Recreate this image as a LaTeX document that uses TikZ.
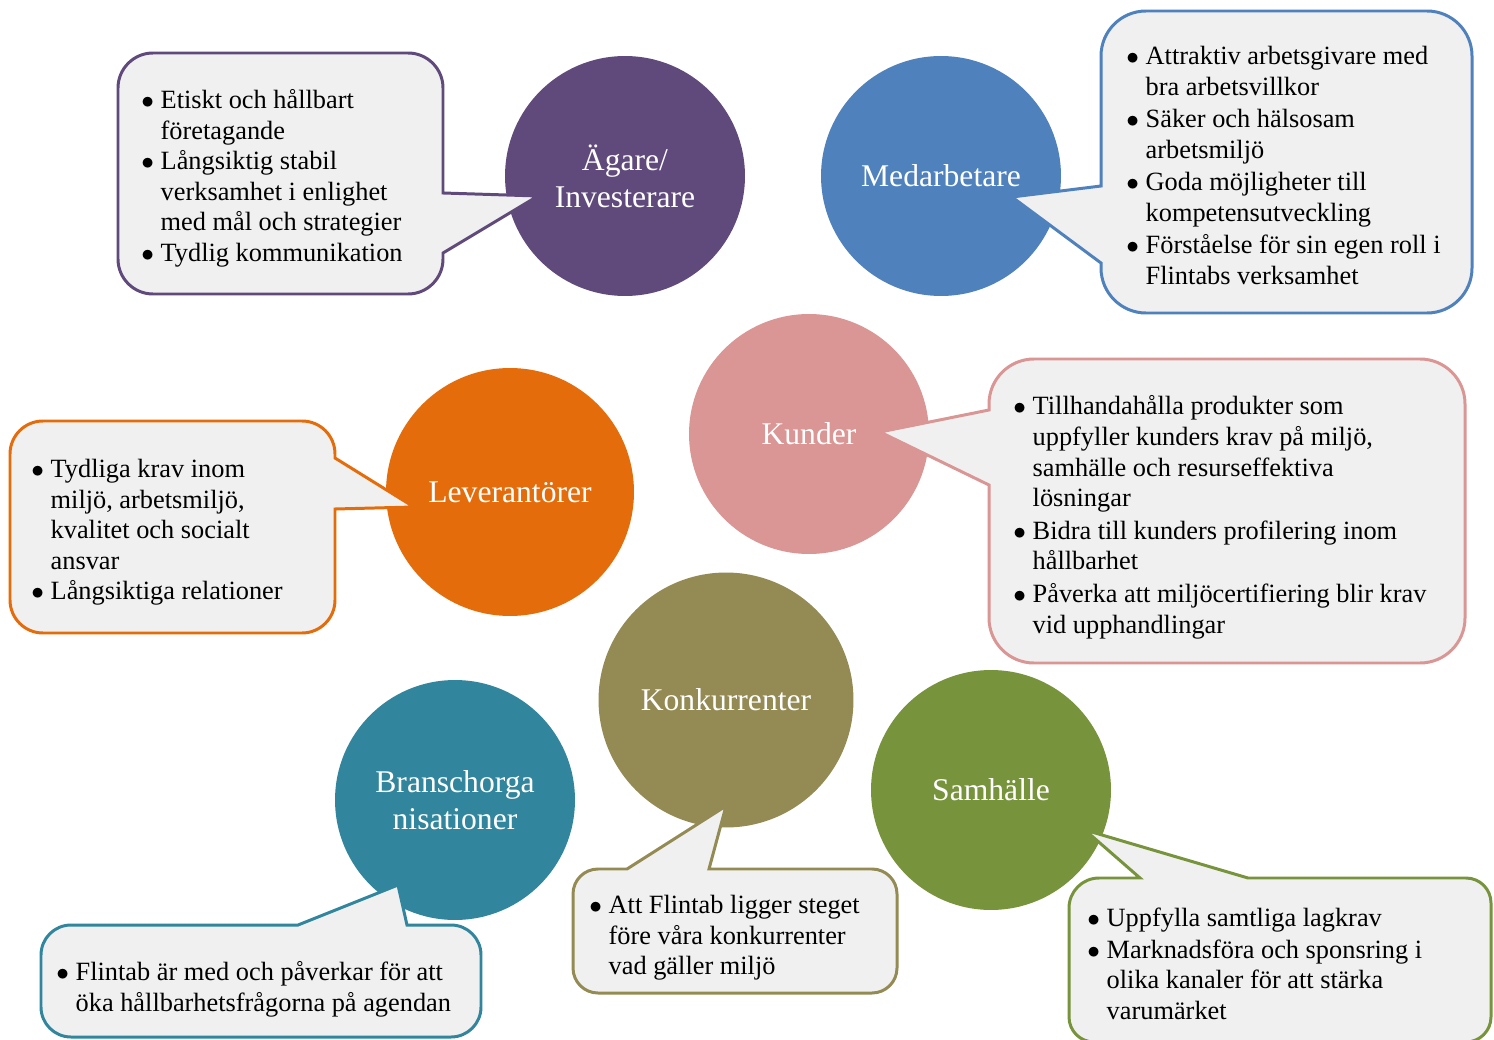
\documentclass[tikz,border=0pt]{standalone}
\usepackage{fontspec}
\setmainfont{Liberation Serif}

\definecolor{agarecol}{HTML}{604A7B}
\definecolor{medcol}{HTML}{4F81BD}
\definecolor{kundcol}{HTML}{D99694}
\definecolor{levcol}{HTML}{E46C0A}
\definecolor{konkcol}{HTML}{948A54}
\definecolor{branschcol}{HTML}{31859C}
\definecolor{samhcol}{HTML}{77933C}
\definecolor{bubblegray}{HTML}{F0F0F0}

\newcommand{\pkt}{$\bullet$}

\tikzset{
  blob/.style={circle, fill=#1, inner sep=0pt, text=white, align=center,
    font=\fontsize{18}{21}\selectfont},
  bubble/.style={draw=#1, fill=bubblegray, line width=1.7pt},
  punkter/.style={anchor=base west, inner sep=0pt,
    font=\fontsize{15}{17.4}\selectfont},
}

\begin{document}
\begin{tikzpicture}[x=0.02cm, y=-0.02cm]
    \useasboundingbox (0,0) rectangle (1494,1040);
    \clip (0,0) rectangle (1494,1040);
    \fill[white] (0,0) rectangle (1494,1040);

    % cirklar
    \node[blob=agarecol, minimum size=4.8cm] (agare) at (625,176) {Ägare/\\Investerare};
    \node[blob=medcol, minimum size=4.8cm] (medarb) at (941,176) {Medarbetare};
    \node[blob=kundcol, minimum size=4.8cm] (kunder) at (809,434) {Kunder};
    \node[blob=levcol, minimum size=4.96cm] (lev) at (510,492) {Leverantörer};
    \node[blob=konkcol, minimum size=5.1cm] (konk) at (726,700) {Konkurrenter};
    \node[blob=branschcol, minimum size=4.8cm] (bransch) at (455,800) {Branschorga\\nisationer};
    \node[blob=samhcol, minimum size=4.8cm] (samh) at (991,790) {Samhälle};

    % pratbubblor (medurs, y nedåt)
    \draw[bubble=agarecol] (153,53) -- (408,53) arc[start angle=-90, end angle=0, radius=35]
        -- (443,193) -- (538,196) -- (443,253)
        -- (443,259) arc[start angle=0, end angle=90, radius=35]
        -- (153,294) arc[start angle=90, end angle=180, radius=35]
        -- (118,88) arc[start angle=180, end angle=270, radius=35] -- cycle;
    \draw[bubble=medcol] (1146,11) -- (1427,11) arc[start angle=-90, end angle=0, radius=45]
        -- (1472,268) arc[start angle=0, end angle=90, radius=45]
        -- (1146,313) arc[start angle=90, end angle=180, radius=45]
        -- (1101,263) -- (1012,197) -- (1101,186)
        -- (1101,56) arc[start angle=180, end angle=270, radius=45] -- cycle;
    \draw[bubble=kundcol] (1034,359) -- (1420,359) arc[start angle=-90, end angle=0, radius=45]
        -- (1465,618) arc[start angle=0, end angle=90, radius=45]
        -- (1034,663) arc[start angle=90, end angle=180, radius=45]
        -- (989,485) -- (880,432) -- (989,410)
        -- (989,404) arc[start angle=180, end angle=270, radius=45] -- cycle;
    \draw[bubble=levcol] (43,421) -- (302,421) arc[start angle=-90, end angle=0, radius=33]
        -- (335,458) -- (414,507) -- (335,509)
        -- (335,600) arc[start angle=0, end angle=90, radius=33]
        -- (43,633) arc[start angle=90, end angle=180, radius=33]
        -- (10,454) arc[start angle=180, end angle=270, radius=33] -- cycle;
    \draw[bubble=branschcol] (71,925) -- (298,925) -- (398,885) -- (407,925)
        -- (451,925) arc[start angle=-90, end angle=0, radius=30]
        -- (481,1007) arc[start angle=0, end angle=90, radius=30]
        -- (71,1037) arc[start angle=90, end angle=180, radius=30]
        -- (41,955) arc[start angle=180, end angle=270, radius=30] -- cycle;
    \draw[bubble=konkcol] (598,869) -- (627,869) -- (726,806) -- (709,869)
        -- (872,869) arc[start angle=-90, end angle=0, radius=25]
        -- (897,968) arc[start angle=0, end angle=90, radius=25]
        -- (598,993) arc[start angle=90, end angle=180, radius=25]
        -- (573,894) arc[start angle=180, end angle=270, radius=25] -- cycle;
    \draw[bubble=samhcol] (1099,878) -- (1140,878) -- (1085,830) -- (1248,878)
        -- (1466,878) arc[start angle=-90, end angle=0, radius=25]
        -- (1491,1017) arc[start angle=0, end angle=90, radius=25]
        -- (1094,1042) arc[start angle=90, end angle=180, radius=25]
        -- (1069,908) arc[start angle=180, end angle=270, radius=30] -- cycle;

    % punktlistor
    \node[punkter] (agaretxt) at (141,108.5) {\begin{tabular}[t]{@{}p{11pt}@{}l@{}}
        \pkt & Etiskt och hållbart\\
             & företagande\\
        \pkt & Långsiktig stabil\\
             & verksamhet i enlighet\\
             & med mål och strategier\\
        \pkt & Tydlig kommunikation
    \end{tabular}};
    \node[punkter] (medtxt) at (1126,65) {\begin{tabular}[t]{@{}p{11pt}@{}l@{}}
        \pkt & Attraktiv arbetsgivare med\\
             & bra arbetsvillkor\\[1pt]
        \pkt & Säker och hälsosam\\
             & arbetsmiljö\\[1pt]
        \pkt & Goda möjligheter till\\
             & kompetensutveckling\\[1pt]
        \pkt & Förståelse för sin egen roll i\\
             & Flintabs verksamhet
    \end{tabular}};
    \node[punkter] (kundtxt) at (1013,415) {\begin{tabular}[t]{@{}p{11pt}@{}l@{}}
        \pkt & Tillhandahålla produkter som\\
             & uppfyller kunders krav på miljö,\\
             & samhälle och resurseffektiva\\
             & lösningar\\[1.2pt]
        \pkt & Bidra till kunders profilering inom\\
             & hållbarhet\\[1.2pt]
        \pkt & Påverka att miljöcertifiering blir krav\\
             & vid upphandlingar
    \end{tabular}};
    \node[punkter] (levtxt) at (31,477.5) {\begin{tabular}[t]{@{}p{11pt}@{}l@{}}
        \pkt & Tydliga krav inom\\
             & miljö, arbetsmiljö,\\
             & kvalitet och socialt\\
             & ansvar\\
        \pkt & Långsiktiga relationer
    \end{tabular}};
    \node[punkter] (branschtxt) at (56,980.5) {\begin{tabular}[t]{@{}p{11pt}@{}l@{}}
        \pkt & Flintab är med och påverkar för att\\
             & öka hållbarhetsfrågorna på agendan
    \end{tabular}};
    \node[punkter] (konktxt) at (589,913.5) {\begin{tabular}[t]{@{}p{11pt}@{}l@{}}
        \pkt & Att Flintab ligger steget\\
             & före våra konkurrenter\\
             & vad gäller miljö
    \end{tabular}};
    \node[punkter] (samhtxt) at (1087,926.5) {\begin{tabular}[t]{@{}p{11pt}@{}l@{}}
        \pkt & Uppfylla samtliga lagkrav\\[0.6pt]
        \pkt & Marknadsföra och sponsring i\\
             & olika kanaler för att stärka\\
             & varumärket
    \end{tabular}};
\end{tikzpicture}
\end{document}
